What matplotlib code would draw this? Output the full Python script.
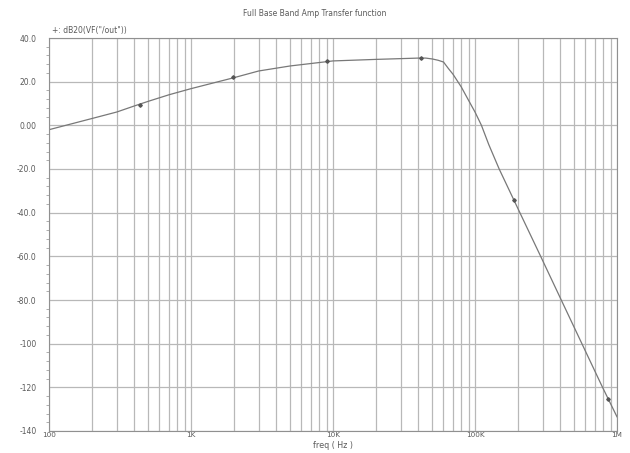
import matplotlib
matplotlib.use("Agg")
import matplotlib.pyplot as plt
from matplotlib.ticker import FixedLocator, NullFormatter

# values
freq = [100, 200, 300, 400, 500, 700, 1000, 2000, 3000, 5000, 10000, 20000,
        40000, 45000, 50000, 55000, 60000, 65000, 70000, 80000, 90000, 100000,
        111000, 125000, 148000, 207000, 290000, 405000, 566000, 791000, 1000000]
gain_db = [-2.0, 3.1, 6.1, 8.9, 11.0, 14.0, 16.8, 21.8, 24.9, 27.2, 29.5, 30.2,
           30.8, 30.8, 30.4, 29.8, 29.0, 26.0, 23.4, 17.6, 11.5, 6.1,
           0.0, -8.8, -20.0, -40.0, -60.0, -80.0, -100.0, -120.0, -133.5]

mark_freq = [437, 1966, 9100, 41500, 189000, 859000]
mark_db = [9.5, 22.1, 29.3, 30.9, -34.4, -125.2]

x_ticks = [100, 1000, 10000, 100000, 1000000]
x_labels = ["100", "1K", "10K", "100K", "1M"]
y_ticks = [40, 20, 0, -20, -40, -60, -80, -100, -120, -140]
y_labels = ["40.0", "20.0", "0.00", "-20.0", "-40.0", "-60.0", "-80.0",
            "-100", "-120", "-140"]

fig = plt.figure(figsize=(6.3, 4.53), dpi=100)
ax = fig.add_axes([49/630, 1-431/453, (617-49)/630, (431-38)/453])

gridc = "#b8b8b8"
txtc = "#5a5a5a"
ax.set_xscale("log")
ax.set_xlim(100, 1e6)
ax.set_ylim(-140, 40)

minors = [m * 10**e for e in range(2, 6) for m in range(2, 10)]
ax.xaxis.set_major_locator(FixedLocator(x_ticks))
ax.xaxis.set_minor_locator(FixedLocator(minors))
ax.xaxis.set_minor_formatter(NullFormatter())
ax.set_xticklabels(x_labels)
ax.set_yticks(y_ticks)
ax.set_yticklabels(y_labels)
ax.yaxis.set_minor_locator(FixedLocator(range(-140, 41, 4)))

ax.grid(True, which="major", color=gridc, lw=0.9)
ax.grid(True, which="minor", axis="x", color=gridc, lw=0.9)
ax.tick_params(axis="x", which="both", length=0, pad=1, labelsize=5.2,
               labelcolor=txtc)
ax.tick_params(axis="y", which="major", length=0, pad=9, labelsize=5.5,
               labelcolor=txtc)
ax.tick_params(axis="y", which="minor", length=2, direction="out",
               color="#a0a0a0", width=0.6)
for s in ax.spines.values():
    s.set_color("#909090")
    s.set_linewidth(0.8)

ax.plot(freq, gain_db, color="#787878", lw=0.9)
ax.plot(mark_freq, mark_db, ls="none", marker="D", ms=1.8, color="#555555")

fig.text(333/630, 1-446/453, "freq ( Hz )", ha="center", va="center",
         fontsize=5.8, color=txtc)
fig.text(0.5, 1-13/453, "Full Base Band Amp Transfer function", ha="center",
         va="center", fontsize=5.5, color=txtc)
fig.text(52/630, 1-31/453, '+: dB20(VF("/out"))', ha="left", va="center",
         fontsize=5.5, color=txtc)

fig.savefig("out.png", dpi=100, facecolor="white")
